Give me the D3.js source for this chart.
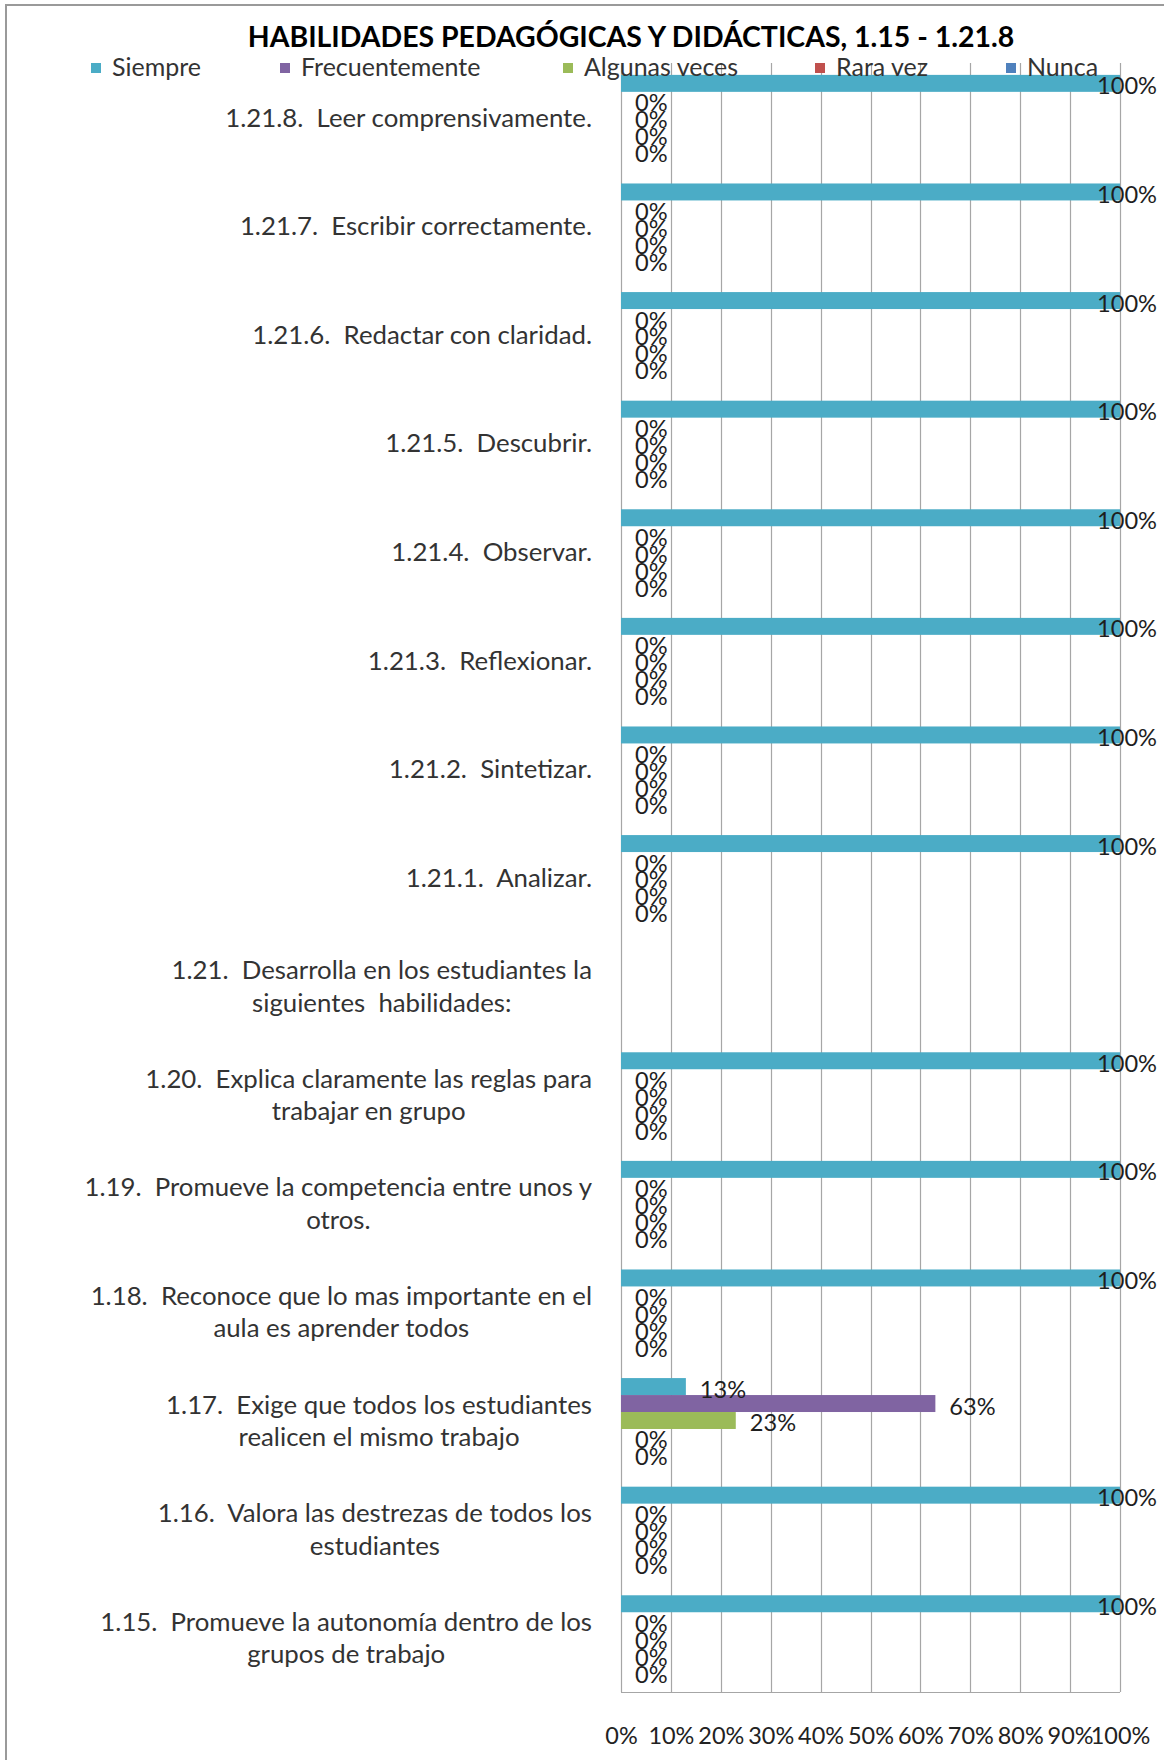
<!DOCTYPE html>
<html>
<head>
<meta charset="utf-8">
<script src="https://cdn.jsdelivr.net/npm/d3@7"></script>
<style>
  html, body { margin: 0; padding: 0; background: #fff; }
  svg { display: block; }
  text { white-space: pre; }
</style>
</head>
<body>
<svg id="chart" width="1164" height="1760"></svg>
<script>
// ---------------- DATA ----------------
const title = "HABILIDADES PEDAGÓGICAS Y DIDÁCTICAS, 1.15 - 1.21.8";

// categories, top to bottom as displayed
const categories = [
  "1.21.8.  Leer comprensivamente.",
  "1.21.7.  Escribir correctamente.",
  "1.21.6.  Redactar con claridad.",
  "1.21.5.  Descubrir.",
  "1.21.4.  Observar.",
  "1.21.3.  Reflexionar.",
  "1.21.2.  Sintetizar.",
  "1.21.1.  Analizar.",
  "1.21.  Desarrolla en los estudiantes la\nsiguientes  habilidades:",
  "1.20.  Explica claramente las reglas para\ntrabajar en grupo",
  "1.19.  Promueve la competencia entre unos y\notros.",
  "1.18.  Reconoce que lo mas importante en el\naula es aprender todos",
  "1.17.  Exige que todos los estudiantes\nrealicen el mismo trabajo",
  "1.16.  Valora las destrezas de todos los\nestudiantes",
  "1.15.  Promueve la autonomía dentro de los\ngrupos de trabajo"
];

const seriesNames = ["Siempre", "Frecuentemente", "Algunas veces", "Rara vez", "Nunca"];

const siempre        = [1, 1, 1, 1, 1, 1, 1, 1, null, 1, 1, 1, 0.13, 1, 1];
const frecuentemente = [0, 0, 0, 0, 0, 0, 0, 0, null, 0, 0, 0, 0.63, 0, 0];
const algunasVeces   = [0, 0, 0, 0, 0, 0, 0, 0, null, 0, 0, 0, 0.23, 0, 0];
const raraVez        = [0, 0, 0, 0, 0, 0, 0, 0, null, 0, 0, 0, 0, 0, 0];
const nunca          = [0, 0, 0, 0, 0, 0, 0, 0, null, 0, 0, 0, 0, 0, 0];

const xTickValues = [0, 0.1, 0.2, 0.3, 0.4, 0.5, 0.6, 0.7, 0.8, 0.9, 1];

// ---------------- STYLE / LAYOUT ----------------
const seriesColors = ["#4BACC6", "#8064A2", "#9BBB59", "#C0504D", "#4F81BD"];
const seriesValues = [siempre, frecuentemente, algunasVeces, raraVez, nunca];
const FONT = "Lato, 'Open Sans', sans-serif";

const svg = d3.select("#chart");

function fitSize(sample, target, weight) {
  const t = svg.append("text")
    .style("font-family", FONT).style("font-weight", weight || "normal")
    .style("font-size", "100px").text(sample);
  const w = t.node().getComputedTextLength();
  t.remove();
  return 100 * target / w;
}

const titleSize = fitSize(title, 767, "bold");
const catSize = fitSize("1.21.8.  Leer comprensivamente.", 367);
const legendSize = fitSize("Siempre", 89);
const labelSize = fitSize("100%", 60);
const tickSize = fitSize("10%", 46);

// frame
svg.append("rect")
  .attr("x", 6).attr("y", 5).attr("width", 1200).attr("height", 1800)
  .attr("fill", "none").attr("stroke", "#9a9a9a").attr("stroke-width", 2);

const plot = { left: 621, right: 1120, top: 63, bottom: 1692 };

const x = d3.scaleLinear().domain([0, 1]).range([plot.left, plot.right]);
const y0 = d3.scaleBand().domain(categories).range([plot.top, plot.bottom]).padding(0);
const y1 = d3.scaleBand().domain(seriesNames).range([0, y0.bandwidth()])
  .paddingInner(0).paddingOuter(0.7);

// gridlines
svg.append("g").selectAll("line").data(xTickValues).join("line")
  .attr("x1", d => Math.round(x(d)) + 0.5).attr("x2", d => Math.round(x(d)) + 0.5)
  .attr("y1", plot.top).attr("y2", plot.bottom)
  .attr("stroke", "#a6a6a6").attr("stroke-width", 1.2);

// bottom border of plot
svg.append("line")
  .attr("x1", plot.left).attr("x2", plot.right)
  .attr("y1", plot.bottom + 0.5).attr("y2", plot.bottom + 0.5)
  .attr("stroke", "#a6a6a6").attr("stroke-width", 1.2);

// x axis tick labels
const xAxis = d3.axisBottom(x).tickValues(xTickValues)
  .tickFormat(d3.format(".0%")).tickSize(0).tickPadding(0);
const gx = svg.append("g").attr("transform", `translate(0, ${plot.bottom})`).call(xAxis);
gx.select(".domain").remove();
gx.selectAll("text")
  .attr("y", 52).attr("dy", 0)
  .style("font-family", FONT).style("font-size", tickSize + "px").attr("fill", "#222");

// bars
const flat = [];
categories.forEach((c, i) => {
  seriesNames.forEach((s, j) => {
    const v = seriesValues[j][i];
    if (v !== null && v !== undefined) flat.push({ cat: c, series: s, value: v, color: seriesColors[j] });
  });
});

svg.append("g").selectAll("rect").data(flat).join("rect")
  .attr("x", x(0))
  .attr("y", d => y0(d.cat) + y1(d.series))
  .attr("width", d => x(d.value) - x(0))
  .attr("height", y1.bandwidth())
  .attr("fill", d => d.color);

// data labels
const labelRight = 1157;
svg.append("g").selectAll("text").data(flat).join("text")
  .style("font-family", FONT).style("font-size", labelSize + "px")
  .attr("fill", "#1e1e1e")
  .attr("y", d => y0(d.cat) + y1(d.series) + y1.bandwidth() / 2 + 2.5)
  .attr("dy", "0.36em")
  .text(d => d3.format(".0%")(d.value))
  .each(function (d) {
    const w = this.getComputedTextLength();
    const xx = Math.min(x(d.value) + 14, labelRight - w);
    d3.select(this).attr("x", xx);
  });

// category labels
const catRight = 592;
const lineGap = 32.5;
const catG = svg.append("g");
categories.forEach(c => {
  const lines = c.split("\n");
  const cy = y0(c) + y0.bandwidth() / 2;
  const t = catG.append("text")
    .style("font-family", FONT).style("font-size", catSize + "px")
    .attr("fill", "#333");
  const tsp = lines.map((ln, k) => t.append("tspan").text(ln));
  const widths = tsp.map(s => s.node().getComputedTextLength());
  const maxW = d3.max(widths);
  const cx = catRight - maxW / 2;
  const n = lines.length;
  tsp.forEach((s, k) => {
    s.attr("x", cx).attr("text-anchor", "middle")
      .attr("y", cy + (k - (n - 1) / 2) * lineGap)
      .attr("dy", "0.36em");
  });
});

// title
svg.append("text")
  .attr("x", 631).attr("y", 47).attr("text-anchor", "middle")
  .style("font-family", FONT).style("font-weight", "bold")
  .style("font-size", titleSize + "px").attr("fill", "#000")
  .text(title);

// legend
const legendX = [91, 280, 563, 815, 1006];
const lg = svg.append("g");
seriesNames.forEach((s, j) => {
  lg.append("rect").attr("x", legendX[j]).attr("y", 63)
    .attr("width", 10).attr("height", 10).attr("fill", seriesColors[j]);
  lg.append("text").attr("x", legendX[j] + 21).attr("y", 76)
    .style("font-family", FONT).style("font-size", legendSize + "px")
    .attr("fill", "#333").text(s);
});
</script>
</body>
</html>
